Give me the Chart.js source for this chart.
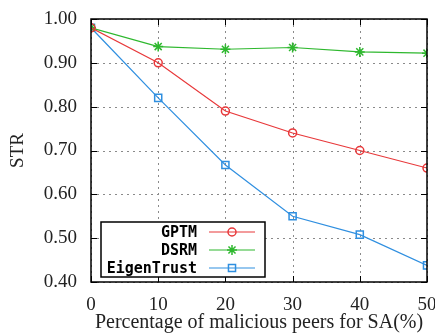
<!DOCTYPE html>
<html>
<head>
<meta charset="utf-8">
<script src="https://cdn.jsdelivr.net/npm/chart.js@4.4.0/dist/chart.umd.min.js"></script>
<style>
  html, body { margin: 0; padding: 0; background: #fff; }
  #wrap { width: 435px; height: 335px; }
</style>
</head>
<body>
<div id="wrap"><canvas id="strChart" width="435" height="335"></canvas></div>
<script>
// ข้อมูลกราฟ
const percentages = [0, 10, 20, 30, 40, 50];
const gptmValues = [0.98, 0.90, 0.79, 0.74, 0.70, 0.66];
const dsrmValues = [0.98, 0.937, 0.931, 0.935, 0.925, 0.922];
const eigenValues = [0.98, 0.82, 0.667, 0.55, 0.508, 0.438];
const yTicks = [0.40, 0.50, 0.60, 0.70, 0.80, 0.90, 1.00];

const serif = '"Liberation Serif", "Times New Roman", serif';

// กรอบแบบ gnuplot + เส้นกริดจุด + ขีดด้านใน
const framePlugin = {
    id: 'frame',
    beforeDatasetsDraw(chart) {
        const ctx = chart.ctx;
        const a = chart.chartArea;
        const xs = chart.scales.x, ys = chart.scales.y;
        ctx.save();
        ctx.strokeStyle = '#8a8a8a';
        ctx.lineWidth = 1;
        ctx.setLineDash([2, 4]);
        ctx.beginPath();
        percentages.forEach(v => {
            const x = Math.round(xs.getPixelForValue(v)) + 0.5;
            ctx.moveTo(x, a.top); ctx.lineTo(x, a.bottom);
        });
        yTicks.forEach(v => {
            const y = Math.round(ys.getPixelForValue(v)) + 0.5;
            ctx.moveTo(a.left, y); ctx.lineTo(a.right, y);
        });
        ctx.stroke();
        ctx.restore();
    },
    afterDatasetsDraw(chart) {
        const ctx = chart.ctx;
        const a = chart.chartArea;
        const xs = chart.scales.x, ys = chart.scales.y;
        ctx.save();
        ctx.strokeStyle = '#000';
        ctx.lineWidth = 1.5;
        ctx.strokeRect(a.left, a.top, a.right - a.left, a.bottom - a.top);
        ctx.lineWidth = 1;
        ctx.beginPath();
        percentages.forEach(v => {
            const x = Math.round(xs.getPixelForValue(v)) + 0.5;
            ctx.moveTo(x, a.bottom); ctx.lineTo(x, a.bottom - 6);
            ctx.moveTo(x, a.top); ctx.lineTo(x, a.top + 6);
        });
        yTicks.forEach(v => {
            const y = Math.round(ys.getPixelForValue(v)) + 0.5;
            ctx.moveTo(a.left, y); ctx.lineTo(a.left + 6, y);
            ctx.moveTo(a.right, y); ctx.lineTo(a.right - 6, y);
        });
        ctx.stroke();
        ctx.restore();
    },
    afterDraw(chart) {
        // คำอธิบายสัญลักษณ์
        const ctx = chart.ctx;
        const bx = 101, by = 222, bw = 164, bh = 55;
        ctx.save();
        ctx.fillStyle = '#fff';
        ctx.fillRect(bx, by, bw, bh);
        ctx.strokeStyle = '#000';
        ctx.lineWidth = 1.5;
        ctx.strokeRect(bx, by, bw, bh);
        ctx.font = 'bold 15px "DejaVu Sans Mono", monospace';
        ctx.textAlign = 'right';
        ctx.textBaseline = 'middle';
        chart.data.datasets.forEach((ds, i) => {
            const y = by + 10 + i * 18;
            ctx.fillStyle = '#000';
            ctx.fillText(ds.label, 197, y + 1);
            ctx.strokeStyle = ds.borderColor;
            ctx.lineWidth = 1.2;
            ctx.beginPath();
            ctx.moveTo(209, y); ctx.lineTo(255, y);
            ctx.stroke();
            ctx.fillStyle = 'rgba(0,0,0,0)';
            ctx.lineWidth = ds.pointBorderWidth;
            Chart.helpers.drawPoint(ctx, {
                pointStyle: ds.pointStyle,
                radius: ds.pointRadius,
                borderWidth: ds.pointBorderWidth,
                rotation: 0
            }, 232, y);
        });
        ctx.restore();
    }
};

function makeSet(label, values, color, style, radius) {
    return {
        label: label,
        data: values,
        borderColor: color,
        backgroundColor: 'rgba(0,0,0,0)',
        pointBorderColor: color,
        pointBackgroundColor: 'rgba(0,0,0,0)',
        pointStyle: style,
        pointRadius: radius,
        pointBorderWidth: 1.5,
        borderWidth: 1.2,
        tension: 0
    };
}

new Chart(document.getElementById('strChart'), {
    type: 'line',
    data: {
        labels: percentages,
        datasets: [
            makeSet('GPTM', gptmValues, '#e8383a', 'circle', 4),
            makeSet('DSRM', dsrmValues, '#2eb82e', 'star', 5),
            makeSet('EigenTrust', eigenValues, '#2f8fe0', 'rect', 5)
        ]
    },
    options: {
        responsive: false,
        animation: false,
        layout: { padding: { left: 0, top: 19, right: 8, bottom: 0 } },
        plugins: { legend: { display: false }, tooltip: { enabled: false } },
        scales: {
            x: {
                type: 'linear',
                min: 0, max: 50,
                afterBuildTicks: s => { s.ticks = percentages.map(v => ({ value: v })); },
                afterFit: s => { s.height = 53; s.paddingLeft = 0; s.paddingRight = 0; },
                grid: { display: false },
                border: { display: false },
                ticks: {
                    padding: 4,
                    color: '#222',
                    font: { family: serif, size: 19 },
                    callback: v => String(v)
                },
                title: {
                    display: true,
                    text: 'Percentage of malicious peers for SA(%)',
                    color: '#222',
                    font: { family: serif, size: 20 },
                    padding: { top: 2, bottom: 0 }
                }
            },
            y: {
                min: 0.40, max: 1.00,
                afterBuildTicks: s => { s.ticks = yTicks.map(v => ({ value: v })); },
                afterFit: s => { s.width = 91; s.paddingTop = 0; s.paddingBottom = 0; },
                grid: { display: false },
                border: { display: false },
                ticks: {
                    padding: 6,
                    color: '#222',
                    font: { family: serif, size: 19 },
                    callback: v => v.toFixed(2)
                },
                title: {
                    display: true,
                    text: 'STR',
                    color: '#222',
                    font: { family: serif, size: 19 },
                    padding: { top: 7, bottom: 0 }
                }
            }
        }
    },
    plugins: [framePlugin]
});
</script>
</body>
</html>
